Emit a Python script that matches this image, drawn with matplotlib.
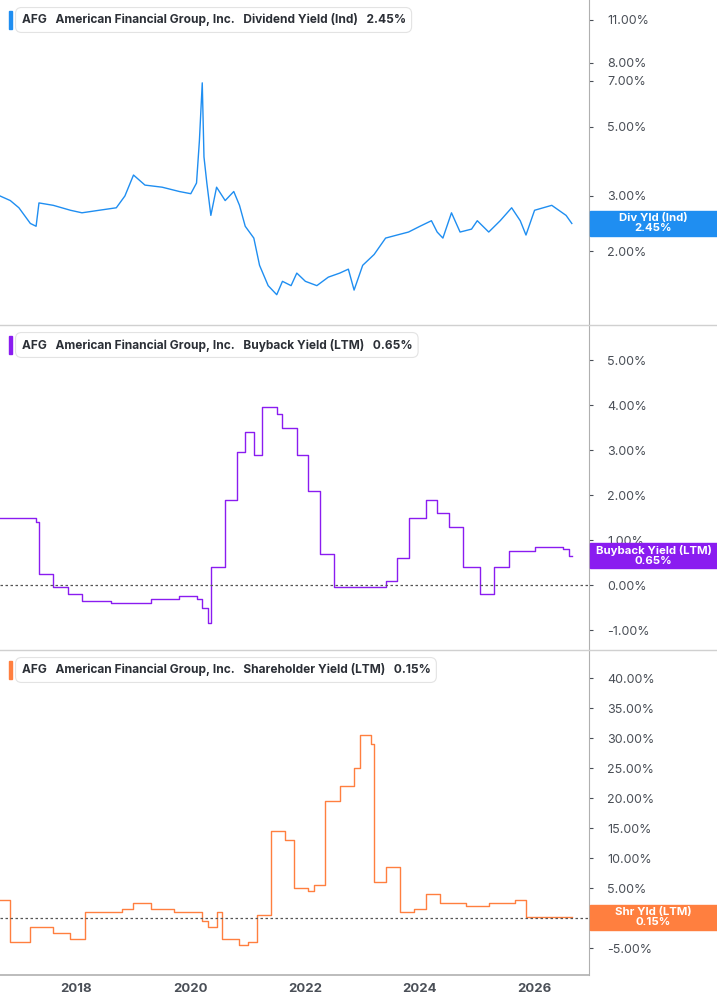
import matplotlib as mpl
mpl.use("Agg")
import matplotlib.pyplot as plt
from matplotlib.patches import Rectangle
from matplotlib.lines import Line2D
from matplotlib.ticker import FixedLocator, NullLocator, FuncFormatter

plt.rcParams["font.family"] = ["Inter", "DejaVu Sans"]

# Dividend yield (Ind), %
div_t = [2016.67, 2016.85, 2017.0, 2017.2, 2017.3, 2017.35, 2017.6, 2017.9, 2018.1, 2018.4,
         2018.7, 2018.85, 2019.0, 2019.2, 2019.5, 2019.8, 2020.0, 2020.1, 2020.15, 2020.2,
         2020.23, 2020.28, 2020.35, 2020.45, 2020.6, 2020.75, 2020.85, 2020.95, 2021.1, 2021.2,
         2021.35, 2021.5, 2021.6, 2021.75, 2021.85, 2022.0, 2022.2, 2022.4, 2022.6, 2022.75,
         2022.85, 2023.0, 2023.2, 2023.4, 2023.6, 2023.8, 2024.0, 2024.2, 2024.3, 2024.4,
         2024.55, 2024.7, 2024.9, 2025.0, 2025.2, 2025.4, 2025.6, 2025.75, 2025.85, 2026.0,
         2026.3, 2026.55, 2026.65]
div_v = [3.0, 2.9, 2.75, 2.45, 2.4, 2.85, 2.8, 2.7, 2.65, 2.7,
         2.75, 3.0, 3.5, 3.25, 3.2, 3.1, 3.05, 3.3, 4.5, 6.9,
         4.0, 3.3, 2.6, 3.2, 2.9, 3.1, 2.8, 2.4, 2.2, 1.8,
         1.55, 1.45, 1.6, 1.55, 1.7, 1.6, 1.55, 1.65, 1.7, 1.75,
         1.5, 1.8, 1.95, 2.2, 2.25, 2.3, 2.4, 2.5, 2.3, 2.2,
         2.65, 2.3, 2.35, 2.5, 2.3, 2.5, 2.75, 2.5, 2.25, 2.7,
         2.8, 2.6, 2.45]

# Buyback yield (LTM), %
bb_t = [2016.67, 2017.3, 2017.35, 2017.6, 2017.85, 2018.1, 2018.6, 2019.3, 2019.8, 2020.1,
        2020.2, 2020.3, 2020.35, 2020.6, 2020.8, 2020.95, 2021.1, 2021.25, 2021.5, 2021.6,
        2021.85, 2022.05, 2022.25, 2022.5, 2023.2, 2023.4, 2023.6, 2023.8, 2024.1, 2024.3,
        2024.5, 2024.75, 2025.05, 2025.3, 2025.55, 2026.0, 2026.5, 2026.6, 2026.65]
bb_v = [1.5, 1.4, 0.25, -0.05, -0.2, -0.35, -0.4, -0.3, -0.25, -0.3,
        -0.5, -0.85, 0.4, 1.9, 2.95, 3.4, 2.9, 3.95, 3.8, 3.5,
        2.9, 2.1, 0.7, -0.05, -0.05, 0.1, 0.6, 1.5, 1.9, 1.6,
        1.3, 0.4, -0.2, 0.4, 0.75, 0.85, 0.8, 0.65, 0.65]

# Shareholder yield (LTM), %
sh_t = [2016.67, 2016.85, 2017.2, 2017.6, 2017.9, 2018.15, 2018.8, 2019.0, 2019.3, 2019.7,
        2020.2, 2020.3, 2020.45, 2020.55, 2020.85, 2021.0, 2021.15, 2021.4, 2021.65, 2021.8,
        2022.05, 2022.15, 2022.35, 2022.6, 2022.85, 2022.95, 2023.15, 2023.2, 2023.4, 2023.65,
        2023.9, 2024.1, 2024.35, 2024.8, 2025.2, 2025.65, 2025.85, 2026.65]
sh_v = [3.0, -4.0, -1.5, -2.5, -3.5, 1.0, 1.5, 2.5, 1.5, 1.0,
        -0.5, -1.5, 1.0, -3.5, -4.5, -4.0, 0.5, 14.5, 13.0, 5.0,
        4.5, 5.5, 19.5, 22.0, 25.0, 30.5, 29.0, 6.0, 8.5, 1.0,
        1.5, 4.0, 2.5, 2.0, 2.5, 3.0, 0.2, 0.15]

INK = "#2b2f36"
TICK = "#4a4f57"
W, H = 717, 1005
fig = plt.figure(figsize=(W / 100, H / 100), dpi=100)

panels = [
    dict(t=div_t, v=div_v, color="#1f8ef1", title="Dividend Yield (Ind)", last="2.45%",
         box="Div Yld (Ind)", top=0, bot=325, log=True, lim=(1.16, 12.7),
         ticks=[2, 3, 5, 7, 8, 11], zero=False, steps=False),
    dict(t=bb_t, v=bb_v, color="#8a1cf0", title="Buyback Yield (LTM)", last="0.65%",
         box="Buyback Yield (LTM)", top=325, bot=650, log=False, lim=(-1.44, 5.78),
         ticks=[-1, 0, 1, 2, 3, 4, 5], zero=True, steps=True),
    dict(t=sh_t, v=sh_v, color="#ff7f3f", title="Shareholder Yield (LTM)", last="0.15%",
         box="Shr Yld (LTM)", top=650, bot=975, log=False, lim=(-9.5, 44.7),
         ticks=[-5, 0, 5, 10, 15, 20, 25, 30, 35, 40], zero=True, steps=True),
]

right = 589 / W
axes = []
for p in panels:
    ax = fig.add_axes([0, 1 - p["bot"] / H, right, (p["bot"] - p["top"]) / H])
    ds = "steps-post" if p["steps"] else "default"
    ax.plot(p["t"], p["v"], color=p["color"], lw=1.0, drawstyle=ds)
    if p["log"]:
        ax.set_yscale("log")
    ax.set_ylim(*p["lim"])
    ax.set_xlim(2016.67, 2026.95)
    ax.yaxis.set_major_locator(FixedLocator(p["ticks"]))
    ax.yaxis.set_minor_locator(NullLocator())
    ax.yaxis.set_major_formatter(FuncFormatter(lambda x, _: f"{x:.2f}%"))
    ax.yaxis.tick_right()
    ax.tick_params(axis="y", labelsize=9, colors=TICK, length=3, pad=10)
    if p["zero"]:
        ax.axhline(0, color="#555555", lw=0.9, ls=(0, (2, 2)))
    for s in ["left", "top", "bottom"]:
        ax.spines[s].set_visible(False)
    ax.spines["right"].set_color("#b0b0b0")
    ax.set_xticks([2018, 2020, 2022, 2024, 2026])
    if p is panels[-1]:
        ax.set_xticklabels(["2018", "2020", "2022", "2024", "2026"])
        ax.tick_params(axis="x", labelsize=9.5, colors=TICK, length=0, pad=6)
        for lab in ax.get_xticklabels():
            lab.set_fontweight("bold")
        fig.add_artist(Line2D([0, right], [1 - 975 / H] * 2, color="#b0b0b0", lw=1.2))
    else:
        ax.tick_params(axis="x", length=0, labelbottom=False)
        fig.add_artist(Line2D([0, 1], [1 - p["bot"] / H] * 2, color="#d0d0d0", lw=1.0))
    # legend-like header
    y0 = 1 - (p["top"] + 20) / H
    fig.text(0.03, y0, f"AFG   American Financial Group, Inc.   {p['title']}   {p['last']}",
             fontsize=8.6, fontweight="bold", color=INK, va="center", ha="left",
             bbox=dict(boxstyle="round,pad=0.5", fc="white", ec="#e3e3e3", lw=0.8))
    fig.add_artist(Rectangle((0.012, y0 - 9 / H), 3 / W, 18 / H, transform=fig.transFigure,
                             color=p["color"], zorder=5))
    axes.append((ax, p))

fig.canvas.draw()
for ax, p in axes:
    yd = ax.transData.transform((2020, p["v"][-1]))[1]
    yf = yd / H
    bh = 25 / H
    fig.add_artist(Rectangle((right + 1 / W, yf - bh / 2), 1, bh, transform=fig.transFigure,
                             color=p["color"], zorder=6))
    fig.text((right + 1 / W + 1) / 2, yf, f"{p['box']}\n{p['last']}", ha="center", va="center",
             fontsize=8.2, fontweight="bold", color="white", linespacing=1.0, zorder=7)

fig.savefig("out.png", dpi=100, facecolor="white")
